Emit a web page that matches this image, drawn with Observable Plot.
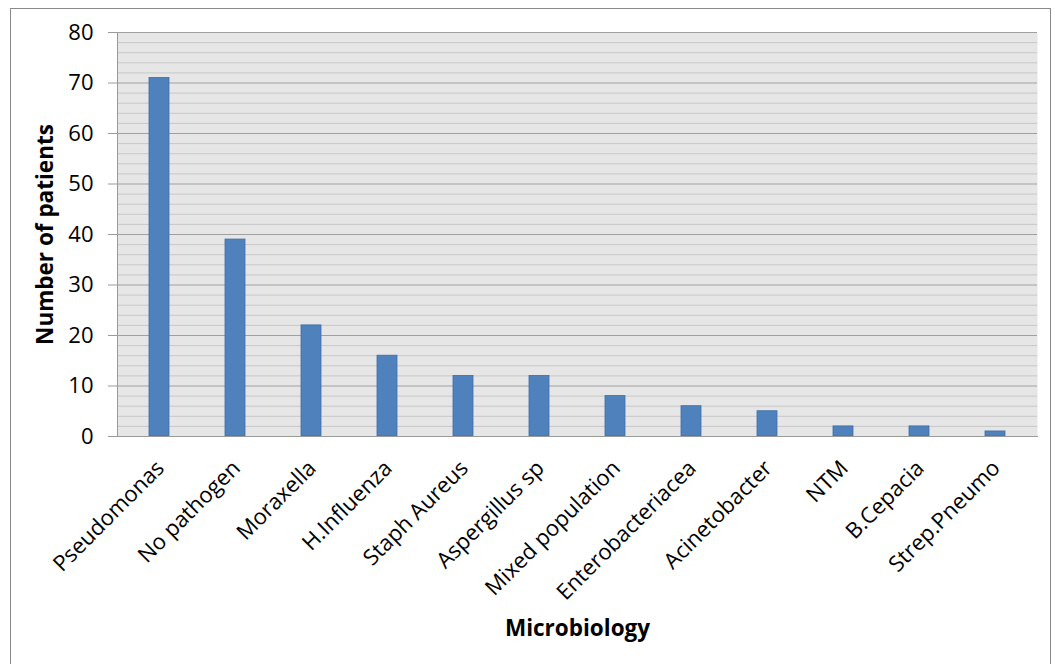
<!DOCTYPE html>
<html>
<head>
<meta charset="utf-8">
<script src="https://cdn.jsdelivr.net/npm/d3@7"></script>
<script src="https://cdn.jsdelivr.net/npm/@observablehq/plot@0.6"></script>
<style>
  html, body { margin: 0; padding: 0; background: #fff; overflow: hidden; }
  #wrap { position: relative; width: 1055px; height: 664px; }
  #border { position: absolute; left: 10px; top: 8px; width: 1041px; height: 700px; border: 1.5px solid #8a8a8a; box-sizing: border-box; }
  #chart { position: absolute; left: 0; top: 0; }
</style>
</head>
<body>
<div id="wrap"><div id="border"></div><div id="chart"></div></div>
<script>
const categories = ["Pseudomonas", "No pathogen", "Moraxella", "H.Influenza", "Staph Aureus", "Aspergillus sp", "Mixed population", "Enterobacteriacea", "Acinetobacter", "NTM", "B.Cepacia", "Strep.Pneumo"];
const patients = [71, 39, 22, 16, 12, 12, 8, 6, 5, 2, 2, 1];
const majorTicks = [0, 10, 20, 30, 40, 50, 60, 70, 80];
const minorTicks = d3.range(2, 80, 2).filter(v => v % 10 !== 0);
const xTitle = "Microbiology";
const yTitle = "Number of patients";

const data = categories.map((c, i) => ({name: c, value: patients[i]}));
const font = "'Open Sans', sans-serif";

const chart = Plot.plot({
  width: 1055,
  height: 664,
  marginLeft: 117,
  marginRight: 18,
  marginTop: 32,
  marginBottom: 228,
  style: {fontFamily: font, background: "transparent", color: "#000"},
  x: {domain: categories, paddingInner: 0.74, paddingOuter: 0.37, label: null},
  y: {domain: [0, 80], label: null},
  marks: [
    Plot.frame({fill: "#e6e6e6", stroke: null}),
    Plot.ruleY(minorTicks, {stroke: "#c8c8c8", strokeWidth: 1}),
    Plot.ruleY(majorTicks, {stroke: "#a0a0a0", strokeWidth: 1}),
    Plot.barY(data, {x: "name", y: "value", fill: "#4f81bd", stroke: "#3f6ea8", strokeWidth: 0.8}),
    Plot.frame({anchor: "left", stroke: "#9a9a9a"}),
    Plot.frame({anchor: "bottom", stroke: "#9a9a9a"}),
    Plot.axisY({ticks: majorTicks, tickSize: 9, tickPadding: 15, fontSize: 22, label: null, stroke: "#9a9a9a"}),
    Plot.axisX({tickSize: 0, tickRotate: -45, tickPadding: 28, dx: 1, fontSize: 22, label: null}),
    Plot.text([xTitle], {text: d => d, frameAnchor: "bottom", dy: 199, fontSize: 22.5, fontWeight: "bold"}),
    Plot.text([yTitle], {text: d => d, frameAnchor: "left", textAnchor: "middle", dx: -72, rotate: -90, fontSize: 22.5, fontWeight: "bold"})
  ]
});
document.getElementById("chart").appendChild(chart);
</script>
</body>
</html>
